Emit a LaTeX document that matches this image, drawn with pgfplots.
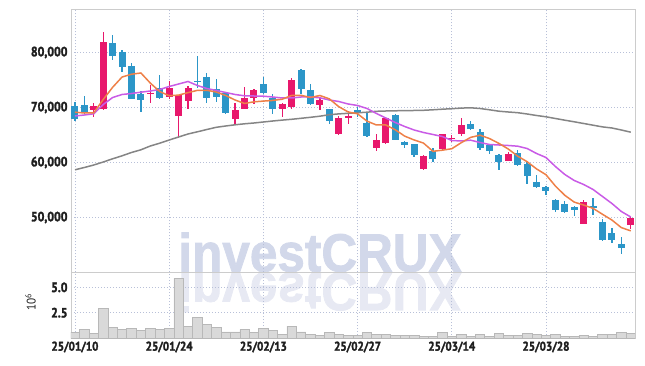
\documentclass[border=0pt]{standalone}
\usepackage{pgfplots}
\pgfplotsset{compat=1.18}
\usepackage{pgfplotstable}
\usepackage{fontspec}
\setmainfont{PT Sans}[FakeStretch=0.9]
\newfontfamily\tickfont{PT Sans}[FakeStretch=0.88, FakeBold=2]
\newfontfamily\wmfont{Liberation Sans}[FakeBold=1.5]
\definecolor{upc}{HTML}{E8186C}
\definecolor{dnc}{HTML}{2C96C8}
\definecolor{mafive}{HTML}{EE8048}
\definecolor{matwenty}{HTML}{C95BE6}
\definecolor{masixty}{HTML}{858585}
\definecolor{gridc}{HTML}{B8C0D8}
\definecolor{framec}{HTML}{CCCCCC}
\definecolor{volf}{HTML}{D9D9D9}
\definecolor{vole}{HTML}{B8B8B8}
\definecolor{wm}{HTML}{D2D8EA}
\definecolor{wmr}{HTML}{E7E9F3}
\definecolor{tickc}{HTML}{1E1E1E}

\pgfplotstableread{
i o h l c
2 69510 70909 68183 70183
3 69765 83763 69500 81873
8 72418 74000 70855 72673
10 71818 74909 71455 73455
11 68364 72300 64545 72182
12 71146 73873 69637 73582
17 67946 70855 66909 69455
18 69765 73764 69637 71637
19 71764 73273 70546 73146
22 69637 70727 68309 70546
23 70055 75273 69637 75091
26 70418 71637 69510 71455
28 65091 68418 64909 68000
29 68054 69327 67091 68418
32 62600 65218 62054 64000
33 63455 68127 63400 68000
37 58727 61273 58600 61146
39 62364 65200 62200 65091
40 64273 65091 63818 64455
41 65091 68000 64727 66727
46 60237 61873 60200 61582
54 48855 53146 48800 52855
59 48546 50000 47946 49946
}\upcandles

\pgfplotstableread{
i o h l c
0 70237 70909 67510 67946
1 70546 72056 68728 69037
4 81690 83091 78727 79327
5 80055 80418 76418 77273
6 77455 78127 71455 71582
7 72491 72964 69146 71328
9 73582 76000 71500 71637
13 74909 79273 73636 74727
14 75636 76182 70855 71691
15 73400 75218 70964 71873
16 72673 72800 68900 69037
20 74182 75509 72364 72546
21 71637 72491 68728 69637
24 76909 76950 72364 73273
25 73146 74182 70500 70546
27 69637 69700 67091 67509
30 69455 70000 68200 68909
31 67091 69037 64700 64782
34 68546 68727 64000 64055
35 63764 63900 62546 63146
36 63273 63400 61036 61273
38 62182 62673 60055 60546
42 66909 67509 65873 66000
43 65582 66127 62364 62546
44 63273 63400 61582 62055
45 61327 61636 58600 60055
47 61764 62364 59327 59509
48 59637 60236 56127 57509
49 56491 57636 55450 55509
50 55582 55700 54000 54782
51 53091 53400 50964 51273
52 52546 52964 50855 51091
53 51946 52100 50236 51327
55 52055 53582 50545 51764
56 49146 49764 45800 45873
57 47218 48127 45400 45873
58 45091 46491 43273 44418
}\downcandles

\pgfplotstableread{
i m5 m20 m60
0 69146 68455 58673
1 69000 68636 59091
2 69037 68855 59545
3 71455 70545 60091
4 73673 71818 60673
5 75539 72364 61218
6 76048 72545 61818
7 76277 72782 62309
8 74437 73000 63000
9 72899 73273 63509
10 72135 73818 64091
11 72255 74273 64636
12 72706 74727 65182
13 73117 74000 65582
14 73127 73455 66000
15 72811 73091 66400
16 72182 72727 66636
17 71357 72364 66855
18 70739 72127 67036
19 71030 72091 67182
20 71164 72055 67364
21 71284 71909 67545
22 71502 71727 67709
23 72193 71727 67855
24 72219 71909 68036
25 71819 71909 68218
26 72182 71764 68418
27 71575 71364 68691
28 70157 71091 68836
29 69186 70636 68945
30 68858 70364 69036
31 67524 69818 69145
32 66822 68909 69309
33 66822 68091 69364
34 65949 67273 69400
35 64797 66545 69436
36 64095 65909 69455
37 63524 65455 69491
38 62033 65091 69582
39 62240 64727 69691
40 62502 64000 69782
41 63593 63909 69891
42 64564 64055 69945
43 64964 63636 69818
44 64357 63273 69582
45 63477 63182 69327
46 62448 63091 69182
47 61149 62964 69055
48 60142 62545 68818
49 58833 61636 68545
50 57778 60909 68309
51 55716 59273 68000
52 54033 57818 67691
53 52796 56727 67400
54 52266 56000 67091
55 51662 55091 66782
56 50582 53818 66473
57 49538 52545 66273
58 48157 51091 65909
59 47575 50091 65509
}\ma

\pgfplotstableread{
i v
0 0.56
1 0.86
2 0.46
3 2.92
4 1.05
5 0.86
6 0.95
7 0.75
8 0.95
9 0.86
10 0.95
11 5.87
12 1.18
13 2.03
14 1.38
15 1.05
16 0.62
17 0.62
18 0.86
19 0.56
20 0.95
21 0.75
22 0.39
23 1.18
24 0.62
25 0.36
26 0.26
27 0.56
28 0.36
29 0.30
30 0.26
31 0.56
32 0.36
33 0.36
34 0.26
35 0.26
36 0.26
37 0.20
38 0.20
39 0.55
40 0.20
41 0.35
42 0.20
43 0.35
44 0.20
45 0.45
46 0.25
47 0.30
48 0.45
49 0.40
50 0.25
51 0.35
52 0.20
53 0.20
54 0.26
55 0.20
56 0.36
57 0.36
58 0.56
59 0.45
}\vol

\pgfplotsset{
  chartbase/.style={
    scale only axis, width=564bp,
    xmin=-0.42, xmax=59.45,
    axis line style={draw=framec, line width=0.8bp},
    grid=major,
    major grid style={draw=gridc, line width=0.7bp, dash pattern=on 1bp off 2bp},
    tick style={draw=none},
    major tick length=0pt,
    xtick={0,10,20,30,40,50},
    scaled y ticks=false,
    tick label style={font=\tickfont\bfseries\fontsize{13.5}{15}\selectfont, text=tickc},
    xticklabel style={font=\tickfont\bfseries\fontsize{12.7}{15}\selectfont},
    /pgf/number format/assume math mode=true,
  },
}

\begin{document}
\begin{tikzpicture}
\path[use as bounding box] (-71bp,-93.7bp) rectangle (574bp,272.3bp);
\node[anchor=base, text=wm, inner sep=0pt, xscale=0.92, font=\wmfont\bfseries\fontsize{54}{54}\selectfont] at (249bp,0.8bp) {investCRUX};
\node[anchor=base, text=wmr, inner sep=0pt, xscale=0.92, yscale=-1, font=\wmfont\bfseries\fontsize{54}{54}\selectfont] at (249bp,-0.8bp) {investCRUX};

\begin{axis}[chartbase,
  at={(0,0)}, anchor=south west,
  height=262.6bp,
  ymin=40036, ymax=87782,
  ytick={50000,60000,70000,80000},
  xticklabels={},
  yticklabel style={/pgf/number format/.cd, fixed, 1000 sep={,}},
]
% wicks
\addplot[draw=none, mark=none, forget plot,
  error bars/.cd, y dir=both, y explicit, error mark=none,
  error bar style={draw=dnc, line width=1.3bp}]
  table[x=i, y expr={(\thisrow{h}+\thisrow{l})/2}, y error expr={(\thisrow{h}-\thisrow{l})/2}] {\downcandles};
\addplot[draw=none, mark=none, forget plot,
  error bars/.cd, y dir=both, y explicit, error mark=none,
  error bar style={draw=upc, line width=1.3bp}]
  table[x=i, y expr={(\thisrow{h}+\thisrow{l})/2}, y error expr={(\thisrow{h}-\thisrow{l})/2}] {\upcandles};
% bodies
\addplot[draw=none, mark=none, forget plot,
  error bars/.cd, y dir=both, y explicit, error mark=none,
  error bar style={draw=dnc, line width=7bp}]
  table[x=i, y expr={(\thisrow{o}+\thisrow{c})/2}, y error expr={max(abs(\thisrow{o}-\thisrow{c})/2,70)}] {\downcandles};
\addplot[draw=none, mark=none, forget plot,
  error bars/.cd, y dir=both, y explicit, error mark=none,
  error bar style={draw=upc, line width=7bp}]
  table[x=i, y expr={(\thisrow{o}+\thisrow{c})/2}, y error expr={max(abs(\thisrow{o}-\thisrow{c})/2,70)}] {\upcandles};
% moving averages
\addplot[masixty, line width=1.5bp, mark=none] table[x=i, y=m60] {\ma};
\addplot[matwenty, line width=1.5bp, mark=none] table[x=i, y=m20] {\ma};
\addplot[mafive, line width=1.5bp, mark=none] table[x=i, y=m5] {\ma};
\end{axis}

\begin{axis}[chartbase,
  at={(0,0)}, anchor=north west,
  height=65.8bp,
  ymin=0, ymax=6.48,
  ytick={2.5,5},
  yticklabel style={/pgf/number format/.cd, fixed, fixed zerofill, precision=1},
  xticklabels={25/01/10,25/01/24,25/02/13,25/02/27,25/03/14,25/03/28},
]
\addplot[ybar, bar width=1, fill=volf, draw=vole, line width=0.6bp] table[x=i, y=v] {\vol};
\end{axis}

\node[rotate=90, text=tickc, font=\fontsize{12.5}{14}\selectfont] at (-40.5bp,-29.5bp) {10\textsuperscript{6}};
\end{tikzpicture}
\end{document}
